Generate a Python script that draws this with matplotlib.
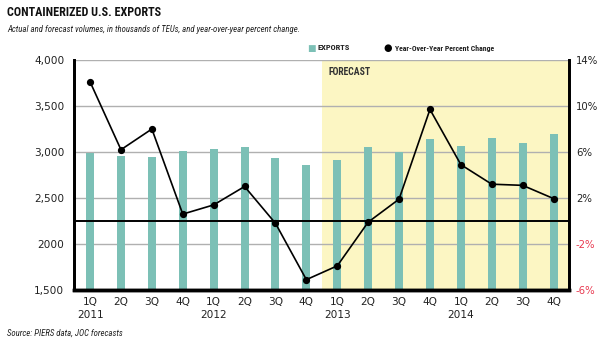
import matplotlib
matplotlib.use("Agg")
import matplotlib.pyplot as plt  # noqa: E402

# ─────────────────────────────────────────────
# DATA
# ─────────────────────────────────────────────
quarters = ["1Q", "2Q", "3Q", "4Q"] * 4
years = ["2011", "", "", "", "2012", "", "", "", "2013", "", "", "", "2014", "", "", ""]
exports = [2990, 2960, 2945, 3010, 3035, 3050, 2940, 2855,
           2915, 3050, 3005, 3140, 3060, 3150, 3100, 3200]
yoy_pct = [12.1, 6.2, 8.0, 0.6, 1.4, 3.0, -0.2, -5.1,
           -3.9, -0.1, 1.9, 9.7, 4.9, 3.2, 3.1, 1.95]
left_ticks = [1500, 2000, 2500, 3000, 3500, 4000]
left_labels = ["1,500", "2000", "2,500", "3,000", "3,500", "4,000"]
right_ticks = [-6, -2, 2, 6, 10, 14]
right_labels = ["-6%", "-2%", "2%", "6%", "10%", "14%"]
forecast_start = 8  # index of first forecast quarter (1Q 2013)

BAR_COLOR = "#7cc0b6"
FORECAST_BG = "#fcf6c3"
GRID = "#b0b0b0"
RED = "#e8384f"
COND = ["Roboto Condensed", "Roboto", "DejaVu Sans"]

fig = plt.figure(figsize=(6, 3.45), dpi=100)
fig.patch.set_facecolor("white")
ax = fig.add_axes([74 / 600, 1 - 290 / 345, (569 - 74) / 600, (290 - 60) / 345])
ax2 = ax.twinx()

x = list(range(len(exports)))
labels = [f"{q}\n{y}" if y else q for q, y in zip(quarters, years)]

ax.axvspan(forecast_start - 0.5, len(x) - 0.5, color=FORECAST_BG, zorder=0, lw=0)
for t in left_ticks[1:]:
    ax.axhline(t, color=GRID, lw=1.0, zorder=1)
ax.bar(x, exports, width=0.26, color=BAR_COLOR, zorder=2)
ax.set_ylim(1500, 4000)
ax.set_xlim(-0.52, len(x) - 0.5)
ax.set_yticks(left_ticks)
ax.set_yticklabels(left_labels)
ax.set_xticks(x)
ax.set_xticklabels(labels, linespacing=1.4)

ax2.axhline(0, color="black", lw=1.4, zorder=3)
ax2.plot(x, yoy_pct, color="black", lw=1.2, marker="o", ms=4.2, zorder=4)
ax2.set_ylim(-6, 14)
ax2.set_yticks(right_ticks)
ax2.set_yticklabels(right_labels)

for a in (ax, ax2):
    a.spines["top"].set_visible(False)
    a.spines["left"].set_linewidth(2)
    a.spines["right"].set_linewidth(2)
    a.spines["bottom"].set_linewidth(2.5)
    a.tick_params(length=0, labelsize=7.6, pad=7, colors="#222222")
ax.tick_params(axis="x", pad=5)
ax2.tick_params(axis="y", labelsize=7.3, pad=5)
for lbl, t in zip(ax2.get_yticklabels(), right_ticks):
    if t < 0:
        lbl.set_color(RED)

ax.text(forecast_start - 0.27, 3865, "FORECAST", fontsize=7, fontweight="bold",
        family=COND, color="#333333", va="center", ha="left")

# Title, subtitle, legend, source
fig.text(7 / 600, 1 - 13 / 345, "CONTAINERIZED U.S. EXPORTS", fontsize=8.7,
         fontweight="bold", family=COND, va="center", ha="left", color="#111111")
fig.text(7 / 600, 1 - 30 / 345,
         "Actual and forecast volumes, in thousands of TEUs, and year-over-year percent change.",
         fontsize=6.3, style="italic", family=COND, va="center", ha="left", color="#222222")
fig.text(311 / 600, 1 - 48 / 345, "\u25A0", fontsize=6.5, color=BAR_COLOR, va="center", ha="center")
fig.text(318 / 600, 1 - 48 / 345, "EXPORTS", fontsize=6, fontweight="bold",
         family=COND, va="center", ha="left", color="#222222")
fig.text(388 / 600, 1 - 48 / 345, "\u25CF", fontsize=7, color="black", va="center", ha="center")
fig.text(395 / 600, 1 - 48 / 345, "Year-Over-Year Percent Change", fontsize=5.6,
         fontweight="bold", family=COND, va="center", ha="left", color="#222222")
fig.text(7 / 600, 1 - 333 / 345, "Source: PIERS data, JOC forecasts", fontsize=6.3,
         style="italic", family=COND, va="center", ha="left", color="#222222")

fig.savefig("out.png", dpi=100, facecolor="white")
